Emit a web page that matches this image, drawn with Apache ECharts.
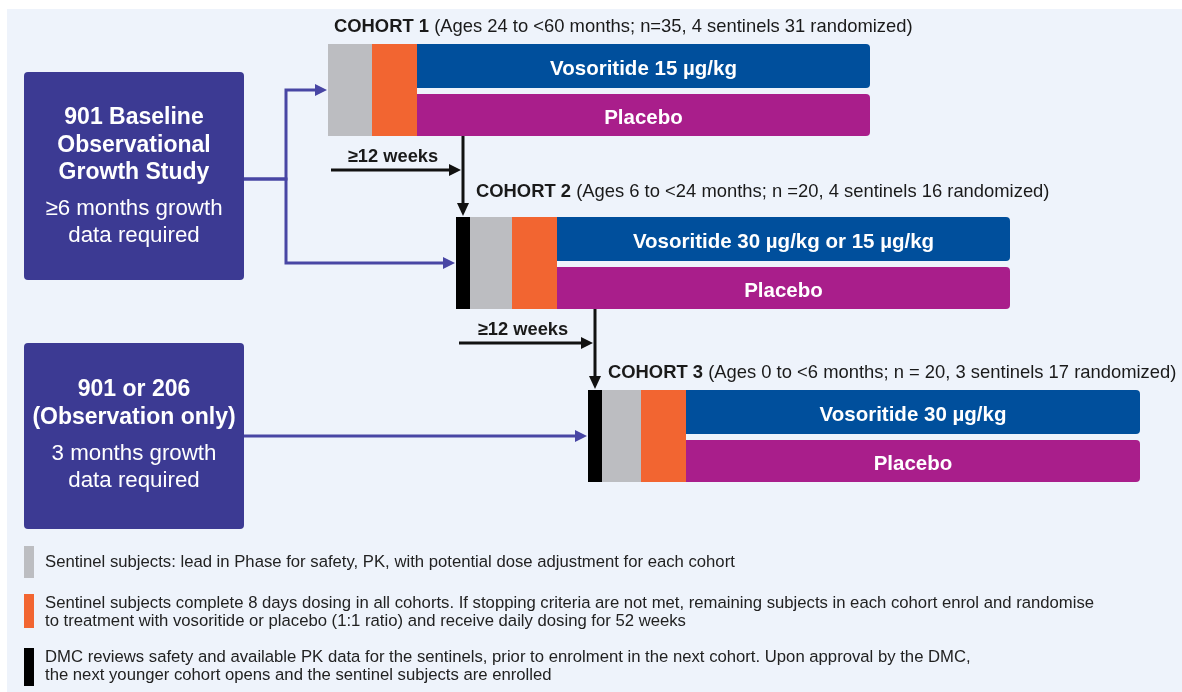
<!DOCTYPE html>
<html>
<head>
<meta charset="utf-8">
<script src="https://cdn.jsdelivr.net/npm/echarts@6/dist/echarts.min.js"></script>
<style>
  html, body { margin: 0; padding: 0; background: #fff; }
  #chart { width: 1182px; height: 692px; }
</style>
</head>
<body>
<div id="chart"></div>
<script>
const cohortNames = ['COHORT 1', 'COHORT 2', 'COHORT 3'];
const cohortDetails = [
    '(Ages 24 to <60 months; n=35, 4 sentinels 31 randomized)',
    '(Ages 6 to <24 months; n =20, 4 sentinels 16 randomized)',
    '(Ages 0 to <6 months; n = 20, 3 sentinels 17 randomized)',
];
// schematic timeline lengths for each stage of a cohort
const cohortStart = [328, 456, 588];
const dmcLength = [0, 14, 14];
const sentinelLength = [44, 42, 39];
const dosingLength = [45, 45, 45];
const armLength = [453, 453, 454];
const activeArms = ['Vosoritide 15 µg/kg', 'Vosoritide 30 µg/kg or 15 µg/kg', 'Vosoritide 30 µg/kg'];
const controlArms = ['Placebo', 'Placebo', 'Placebo'];
const gapLabels = ['≥12 weeks', '≥12 weeks'];

const studyTitles = [['901 Baseline', 'Observational', 'Growth Study'], ['901 or 206', '(Observation only)']];
const studyNotes = [['≥6 months growth', 'data required'], ['3 months growth', 'data required']];
const studyTargets = [[0, 1], [2]];

const legendText = [
    ['Sentinel subjects: lead in Phase for safety, PK, with potential dose adjustment for each cohort'],
    ['Sentinel subjects complete 8 days dosing in all cohorts. If stopping criteria are not met, remaining subjects in each cohort enrol and randomise',
     'to treatment with vosoritide or placebo (1:1 ratio) and receive daily dosing for 52 weeks'],
    ['DMC reviews safety and available PK data for the sentinels, prior to enrolment in the next cohort. Upon approval by the DMC,',
     'the next younger cohort opens and the sentinel subjects are enrolled'],
];

const FONT = "'Liberation Sans', Arial, sans-serif";
const C = {
    panel: '#eef3fb', study: '#3c3a93', flow: '#4846a4', dmc: '#000000',
    sentinel: '#bcbdc1', dosing: '#f26531', active: '#004f9c', control: '#a91e8b', text: '#1a1a1a',
};
const BLOCK_H = 92;
const labelLift = [17, 25, 17];

const chart = echarts.init(document.getElementById('chart'), null, { renderer: 'canvas' });

const cohortData = cohortNames.map((_, i) => [i, cohortStart[i], dmcLength[i], sentinelLength[i], dosingLength[i], armLength[i]]);

function renderCohort(params, api) {
    const i = api.value(0);
    const s0 = api.value(1);
    const s1 = s0 + api.value(2);
    const s2 = s1 + api.value(3);
    const s3 = s2 + api.value(4);
    const s4 = s3 + api.value(5);
    const yc = api.coord([s0, i])[1];
    const x = [s0, s1, s2, s3, s4].map((v) => api.coord([v, i])[0]);
    const top = yc - BLOCK_H / 2;
    const bottom = yc + BLOCK_H / 2;
    const children = [];
    if (x[1] > x[0]) {
        children.push({ type: 'rect', shape: { x: x[0], y: top, width: x[1] - x[0], height: BLOCK_H }, style: { fill: C.dmc } });
    }
    children.push({ type: 'rect', shape: { x: x[1], y: top, width: x[2] - x[1], height: BLOCK_H }, style: { fill: C.sentinel } });
    children.push({ type: 'rect', shape: { x: x[2], y: top, width: x[3] - x[2], height: BLOCK_H }, style: { fill: C.dosing } });
    children.push({ type: 'rect', shape: { x: x[3], y: top, width: x[4] - x[3], height: yc - 2 - top, r: [0, 4, 4, 0] }, style: { fill: C.active } });
    children.push({ type: 'rect', shape: { x: x[3], y: yc + 4, width: x[4] - x[3], height: bottom - yc - 4, r: [0, 4, 4, 0] }, style: { fill: C.control } });
    const mid = (x[3] + x[4]) / 2;
    children.push({ type: 'text', style: { text: activeArms[i], x: mid, y: (top + yc - 2) / 2 + 3, align: 'center', verticalAlign: 'middle', fill: '#fff', font: 'bold 20.5px ' + FONT } });
    children.push({ type: 'text', style: { text: controlArms[i], x: mid, y: (yc + 4 + bottom) / 2 + 3, align: 'center', verticalAlign: 'middle', fill: '#fff', font: 'bold 20.5px ' + FONT } });
    children.push({
        type: 'text',
        style: {
            text: '{b|' + cohortNames[i] + '} ' + cohortDetails[i],
            x: x[1] + 6, y: top - labelLift[i], align: 'left', verticalAlign: 'middle',
            fill: C.text, font: '18.4px ' + FONT,
            rich: { b: { font: 'bold 18.4px ' + FONT, fill: C.text } },
        },
    });
    return { type: 'group', children };
}

// black "≥12 weeks" hand-off arrows between consecutive cohorts
function renderGap(params, api) {
    const i = api.value(0);
    const prev = cohortData[i - 1];
    const cur = cohortData[i];
    const prevBottom = api.coord([prev[1], i - 1])[1] + BLOCK_H / 2;
    const curTop = api.coord([cur[1], i])[1] - BLOCK_H / 2;
    const vx = api.coord([cur[1] + cur[2] / 2, i])[0];
    const hx0 = api.coord([prev[1] + 3, i])[0];
    const hy = prevBottom + 34;
    const line = { stroke: '#111', lineWidth: 3 };
    return {
        type: 'group',
        children: [
            { type: 'line', shape: { x1: vx, y1: prevBottom, x2: vx, y2: curTop - 12 }, style: line },
            { type: 'polygon', shape: { points: [[vx - 6, curTop - 14], [vx + 6, curTop - 14], [vx, curTop - 1]] }, style: { fill: '#111' } },
            { type: 'line', shape: { x1: hx0, y1: hy, x2: vx - 12, y2: hy }, style: line },
            { type: 'polygon', shape: { points: [[vx - 14, hy - 6], [vx - 14, hy + 6], [vx - 2, hy]] }, style: { fill: '#111' } },
            { type: 'text', style: { text: gapLabels[i - 1], x: (hx0 + vx) / 2 - 4, y: prevBottom + 21, align: 'center', verticalAlign: 'middle', fill: C.text, font: 'bold 18.3px ' + FONT } },
        ],
    };
}

// study boxes on the left feed the cohorts
const studyBoxes = [
    { x: 24, y: 72, w: 220, h: 208, lineY: 179, junction: 286, titleY: 118, noteY: 209 },
    { x: 24, y: 343, w: 220, h: 186, lineY: 436, junction: 286, titleY: 390, noteY: 454 },
];

function renderFlow(params, api) {
    const studyIdx = api.value(0);
    const target = api.value(1);
    const box = studyBoxes[studyIdx];
    const c = cohortData[target];
    const [tx, ty] = api.coord([c[1], target]);
    const x0 = box.x + box.w;
    const y0 = studyTargets[studyIdx].length > 1 ? box.lineY : ty;
    const pts = y0 === ty ? [[x0, ty], [tx - 11, ty]] : [[x0, y0], [box.junction, y0], [box.junction, ty], [tx - 11, ty]];
    return {
        type: 'group',
        children: [
            { type: 'polyline', shape: { points: pts }, style: { stroke: C.flow, lineWidth: 3, fill: null } },
            { type: 'polygon', shape: { points: [[tx - 13, ty - 6], [tx - 13, ty + 6], [tx - 1, ty]] }, style: { fill: C.flow } },
        ],
    };
}

const flowData = [];
studyTargets.forEach((targets, s) => targets.forEach((t) => flowData.push([s, t])));

const graphics = [
    { type: 'rect', z: -10, shape: { x: 7, y: 9, width: 1175, height: 683 }, style: { fill: C.panel } },
];
studyBoxes.forEach((b, s) => {
    graphics.push({ type: 'rect', shape: { x: b.x, y: b.y, width: b.w, height: b.h, r: 4 }, style: { fill: C.study } });
    studyTitles[s].forEach((t, k) => graphics.push({
        type: 'text', style: { text: t, x: b.x + b.w / 2, y: b.titleY + k * 27.5, align: 'center', verticalAlign: 'middle', fill: '#fff', font: 'bold 23px ' + FONT },
    }));
    studyNotes[s].forEach((t, k) => graphics.push({
        type: 'text', style: { text: t, x: b.x + b.w / 2, y: b.noteY + k * 27, align: 'center', verticalAlign: 'middle', fill: '#fff', font: '22.3px ' + FONT },
    }));
});
const legendSwatch = [C.sentinel, C.dosing, C.dmc];
const legendTop = [546, 594, 648];
const legendH = [32, 34, 38];
legendText.forEach((lines, k) => {
    graphics.push({ type: 'rect', shape: { x: 24, y: legendTop[k], width: 10, height: legendH[k] }, style: { fill: legendSwatch[k] } });
    lines.forEach((t, j) => graphics.push({
        type: 'text',
        style: {
            text: t, x: 45, y: legendTop[k] + (lines.length === 1 ? legendH[k] / 2 : 9 + j * 18),
            align: 'left', verticalAlign: 'middle', fill: '#222', font: '16.7px ' + FONT,
        },
    }));
});

chart.setOption({
    animation: false,
    backgroundColor: '#ffffff',
    grid: { left: 0, right: 0, top: 3.5, bottom: 169.5 },
    xAxis: { type: 'value', min: 0, max: 1182, show: false },
    yAxis: { type: 'category', data: cohortNames, inverse: true, show: false },
    graphic: graphics,
    series: [
        { type: 'custom', name: 'flow', renderItem: renderFlow, data: flowData, encode: { x: -1, y: 1 }, z: 2 },
        { type: 'custom', name: 'cohorts', renderItem: renderCohort, data: cohortData, encode: { x: 1, y: 0 }, z: 3 },
        { type: 'custom', name: 'gaps', renderItem: renderGap, data: [[1], [2]], encode: { x: -1, y: 0 }, z: 3 },
    ],
});
</script>
</body>
</html>
